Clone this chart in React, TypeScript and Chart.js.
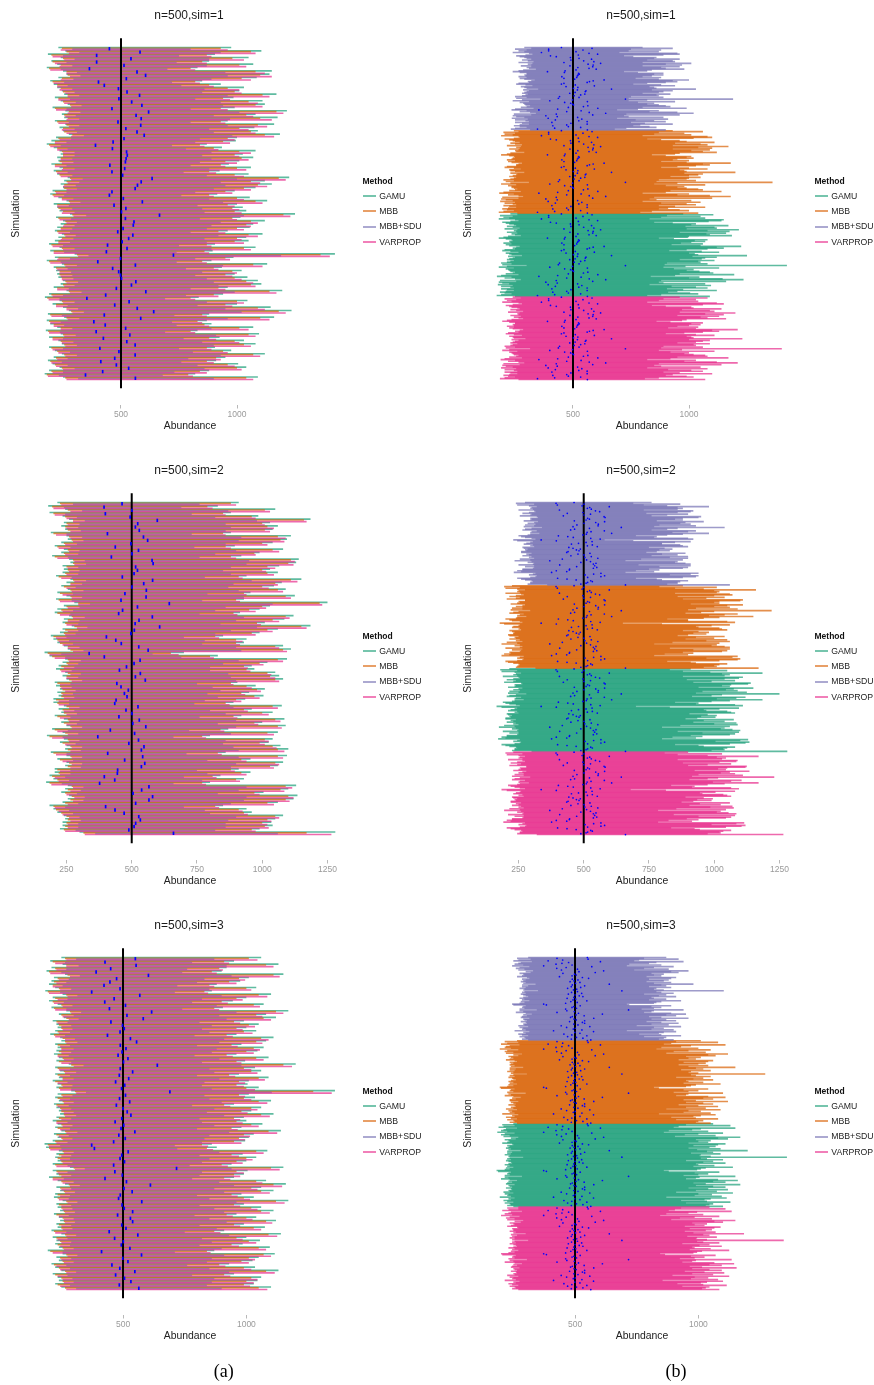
import React, { useEffect, useRef } from 'react';
import { Chart, registerables } from 'chart.js';

Chart.register(...registerables);

const FONT = "'Liberation Sans', Arial, Helvetica, sans-serif";

// ---------------- data ----------------
const METHODS = ['GAMU', 'MBB', 'MBB+SDU', 'VARPROP'];
const METHOD_COLORS: Record<string, string> = {
  GAMU: '#1B9E77',
  MBB: '#D95F02',
  'MBB+SDU': '#7570B3',
  VARPROP: '#E7298A',
};
const GROUP_ORDER_A = ['GAMU', 'MBB', 'MBB+SDU', 'VARPROP']; // (a): within each simulation, top to bottom
const BLOCK_ORDER_B = ['MBB+SDU', 'MBB', 'GAMU', 'VARPROP']; // (b): blocks, top to bottom
const TRUE_ABUNDANCE = 500;
const PANEL_TITLES = ['n=500,sim=1', 'n=500,sim=2', 'n=500,sim=3'];
const X_TICKS_1 = [500, 1000];
const X_TICKS_2 = [250, 500, 750, 1000, 1250];
const X_TICKS_3 = [500, 1000];
const X_LIMITS_1 = [107.8, 1487];
const X_LIMITS_2 = [110.3, 1336.3];
const X_LIMITS_3 = [123, 1420];

// ---- simulation 1 ----
const SIM1_EST = [
  450, 582, 395, 543, 395, 513, 364, 569, 606, 523,
  403, 428, 489, 526, 580, 491, 546, 590, 461, 619,
  565, 587, 487, 585, 521, 569, 600, 513, 466, 390,
  463, 524, 527, 522, 519, 452, 516, 461, 507, 634,
  587, 571, 561, 461, 450, 510, 592, 470, 521, 502,
  666, 519, 556, 553, 509, 486, 551, 533, 505, 442,
  526, 437, 726, 498, 400, 562, 464, 490, 498, 502,
  564, 545, 480, 607, 434, 353, 535, 473, 570, 641,
  428, 585, 383, 432, 520, 393, 538, 424, 525, 561,
  409, 491, 561, 473, 413, 480, 533, 421, 347, 562,
];
const SIM1_GAMU_LO = [
  230, 260, 185, 240, 200, 225, 180, 250, 265, 230,
  195, 210, 225, 245, 255, 215, 240, 270, 205, 260,
  245, 255, 215, 260, 235, 250, 275, 220, 200, 180,
  210, 235, 240, 225, 230, 200, 235, 210, 225, 270,
  255, 240, 250, 205, 195, 230, 265, 210, 225, 235,
  280, 220, 250, 240, 225, 215, 245, 230, 215, 190,
  235, 195, 300, 215, 180, 245, 210, 220, 225, 230,
  250, 240, 210, 265, 190, 172, 235, 205, 250, 275,
  185, 255, 180, 195, 225, 176, 240, 190, 230, 245,
  190, 215, 245, 210, 185, 205, 235, 190, 171, 250,
];
const SIM1_GAMU_HI = [
  975, 1105, 905, 1050, 880, 1070, 830, 1150, 1140, 1085,
  850, 930, 1030, 1010, 1170, 985, 1110, 1120, 990, 1215,
  1080, 1175, 960, 1160, 1075, 1090, 1185, 1000, 995, 870,
  935, 1080, 1025, 1070, 1010, 965, 1060, 925, 1050, 1225,
  1120, 1150, 1080, 990, 915, 1055, 1130, 1000, 1025, 1040,
  1250, 1015, 1120, 1070, 1055, 960, 1110, 1040, 1050, 905,
  1080, 895, 1422, 985, 890, 1130, 935, 1020, 990, 1045,
  1090, 1105, 960, 1195, 940, 835, 1045, 1000, 1145, 1235,
  880, 1160, 870, 890, 1070, 830, 1095, 925, 1030, 1080,
  905, 975, 1120, 950, 910, 1005, 1040, 880, 820, 1090,
];
const SIM1_MBB_LO = [
  245, 265, 200, 250, 205, 240, 190, 265, 270, 245,
  205, 225, 240, 250, 270, 230, 250, 280, 215, 275,
  255, 270, 225, 265, 250, 255, 290, 230, 215, 190,
  225, 245, 250, 240, 235, 215, 250, 220, 235, 280,
  265, 255, 255, 215, 205, 245, 275, 225, 230, 250,
  290, 230, 260, 255, 240, 225, 255, 245, 230, 200,
  245, 210, 310, 230, 190, 255, 220, 235, 235, 245,
  260, 250, 225, 275, 200, 182, 245, 220, 265, 285,
  195, 265, 190, 210, 240, 186, 250, 205, 240, 255,
  200, 225, 255, 220, 195, 215, 245, 200, 180, 260,
];
const SIM1_MBB_HI = [
  930, 1060, 870, 980, 850, 1010, 800, 1080, 1100, 1020,
  820, 880, 960, 990, 1110, 940, 1050, 1080, 930, 1170,
  1040, 1100, 930, 1090, 1010, 1060, 1120, 960, 940, 840,
  900, 1010, 990, 1020, 950, 930, 1000, 880, 990, 1180,
  1060, 1090, 1030, 950, 880, 1000, 1080, 960, 980, 990,
  1200, 980, 1060, 1040, 1000, 920, 1050, 1000, 990, 870,
  1030, 860, 1360, 950, 850, 1070, 900, 980, 950, 990,
  1040, 1060, 920, 1140, 900, 800, 1000, 950, 1090, 1180,
  850, 1100, 830, 860, 1010, 800, 1050, 880, 990, 1030,
  870, 940, 1070, 910, 870, 960, 1000, 840, 790, 1040,
];
const SIM1_MBBSDU_LO = [
  290, 320, 250, 300, 265, 290, 240, 310, 325, 295,
  255, 270, 290, 300, 320, 280, 305, 330, 265, 325,
  305, 320, 275, 320, 300, 310, 340, 285, 265, 240,
  270, 300, 300, 290, 295, 265, 300, 270, 290, 335,
  320, 305, 310, 265, 255, 295, 325, 275, 290, 300,
  350, 285, 310, 300, 290, 280, 305, 295, 280, 250,
  300, 255, 360, 280, 240, 310, 270, 285, 290, 295,
  315, 300, 275, 330, 250, 235, 300, 270, 315, 340,
  245, 320, 240, 255, 290, 236, 305, 250, 295, 310,
  250, 280, 310, 270, 245, 270, 300, 250, 232, 315,
];
const SIM1_MBBSDU_HI = [
  800, 930, 750, 880, 740, 870, 700, 950, 960, 890,
  720, 760, 860, 850, 960, 820, 930, 940, 800, 1010,
  900, 970, 800, 960, 880, 900, 980, 840, 820, 720,
  780, 890, 850, 890, 840, 800, 880, 770, 870, 1000,
  930, 950, 900, 820, 760, 880, 940, 830, 850, 860,
  1030, 840, 930, 890, 870, 800, 920, 860, 870, 750,
  890, 740, 1190, 820, 740, 940, 780, 850, 820, 870,
  900, 920, 800, 990, 780, 690, 870, 830, 950, 1020,
  730, 960, 720, 740, 890, 690, 910, 770, 850, 900,
  750, 810, 930, 790, 760, 830, 860, 730, 680, 900,
];
const SIM1_VARPROP_LO = [
  240, 275, 205, 255, 215, 235, 195, 265, 280, 240,
  210, 225, 235, 260, 270, 230, 255, 285, 220, 270,
  260, 265, 230, 275, 245, 265, 285, 235, 215, 195,
  225, 250, 250, 240, 245, 215, 245, 225, 240, 285,
  270, 250, 265, 220, 210, 245, 280, 225, 240, 245,
  295, 235, 265, 250, 240, 230, 260, 240, 230, 205,
  250, 210, 315, 225, 195, 260, 225, 235, 240, 245,
  265, 255, 225, 280, 205, 188, 250, 220, 265, 290,
  200, 270, 195, 210, 240, 190, 255, 205, 245, 260,
  205, 230, 260, 225, 200, 220, 250, 205, 185, 265,
];
const SIM1_VARPROP_HI = [
  960, 1080, 890, 1030, 870, 1040, 820, 1120, 1150, 1060,
  840, 900, 1010, 1020, 1140, 970, 1090, 1110, 960, 1200,
  1070, 1150, 950, 1130, 1050, 1080, 1160, 990, 970, 860,
  920, 1060, 1010, 1050, 1000, 950, 1040, 910, 1030, 1210,
  1100, 1130, 1060, 980, 900, 1030, 1110, 990, 1010, 1020,
  1230, 1000, 1090, 1060, 1030, 950, 1090, 1020, 1030, 890,
  1060, 880, 1400, 970, 870, 1110, 920, 1000, 980, 1020,
  1070, 1080, 950, 1170, 920, 820, 1030, 980, 1120, 1210,
  870, 1140, 850, 880, 1050, 820, 1080, 910, 1010, 1060,
  890, 960, 1100, 930, 900, 990, 1020, 870, 810, 1070,
];

// ---- simulation 2 ----
const SIM2_EST = [
  463, 394, 501, 399, 494, 598, 523, 514, 529, 407,
  545, 561, 497, 437, 526, 501, 422, 578, 582, 515,
  522, 509, 464, 580, 546, 501, 556, 474, 555, 459,
  644, 522, 465, 450, 579, 528, 513, 607, 510, 497,
  403, 439, 460, 527, 563, 337, 395, 532, 509, 480,
  453, 533, 514, 552, 443, 459, 487, 472, 482, 440,
  435, 524, 478, 501, 451, 529, 504, 554, 418, 511,
  370, 526, 489, 547, 537, 408, 542, 473, 550, 537,
  446, 445, 395, 435, 377, 566, 538, 505, 580, 566,
  515, 400, 436, 471, 527, 533, 515, 509, 489, 660,
];
const SIM2_GAMU_LO = [
  215, 180, 245, 185, 235, 260, 240, 230, 245, 190,
  250, 255, 230, 205, 240, 230, 195, 260, 265, 235,
  240, 235, 210, 265, 250, 230, 255, 215, 250, 210,
  280, 240, 215, 205, 260, 240, 235, 270, 235, 225,
  190, 200, 215, 240, 255, 166, 185, 245, 235, 220,
  210, 245, 235, 250, 205, 210, 225, 215, 220, 200,
  200, 240, 220, 230, 205, 240, 230, 250, 195, 235,
  175, 240, 225, 250, 245, 190, 250, 215, 250, 245,
  205, 205, 185, 200, 172, 255, 245, 230, 260, 255,
  235, 185, 200, 215, 240, 245, 235, 235, 225, 300,
];
const SIM2_GAMU_HI = [
  910, 830, 1050, 880, 985, 1185, 1030, 1060, 1040, 880,
  1110, 1095, 1040, 895, 1080, 990, 920, 1140, 1130, 1065,
  1030, 1060, 940, 1150, 1075, 1045, 1090, 955, 1125, 930,
  1250, 1030, 990, 915, 1120, 1085, 1010, 1185, 1060, 990,
  850, 940, 930, 1080, 1110, 700, 830, 1095, 1020, 960,
  970, 1050, 1065, 1080, 905, 975, 1010, 950, 1005, 935,
  890, 1075, 960, 1040, 920, 1085, 1000, 1090, 870, 1060,
  800, 1040, 1025, 1070, 1100, 860, 1095, 955, 1080, 1060,
  910, 955, 840, 930, 800, 1130, 1100, 1005, 1135, 1120,
  1060, 850, 940, 960, 1080, 1050, 1035, 1040, 990, 1280,
];
const SIM2_MBB_LO = [
  225, 195, 255, 200, 245, 275, 250, 245, 255, 200,
  260, 270, 240, 215, 255, 240, 205, 275, 275, 250,
  255, 245, 220, 275, 265, 240, 265, 225, 265, 220,
  295, 250, 230, 215, 270, 255, 245, 280, 245, 240,
  200, 215, 225, 255, 265, 178, 195, 255, 250, 230,
  225, 255, 250, 260, 215, 225, 235, 230, 230, 210,
  215, 250, 235, 240, 215, 255, 240, 265, 205, 245,
  185, 255, 235, 265, 255, 200, 265, 225, 260, 255,
  215, 220, 195, 215, 185, 270, 255, 245, 270, 265,
  245, 200, 210, 230, 250, 255, 250, 245, 240, 315,
];
const SIM2_MBB_HI = [
  880, 790, 1010, 850, 960, 1160, 1000, 1020, 1010, 850,
  1060, 1070, 1000, 860, 1040, 970, 880, 1110, 1100, 1020,
  1000, 1020, 910, 1110, 1050, 1000, 1060, 930, 1090, 900,
  1220, 1000, 950, 890, 1090, 1040, 980, 1150, 1020, 960,
  820, 900, 900, 1050, 1080, 650, 800, 1060, 990, 930,
  940, 1020, 1030, 1050, 880, 940, 980, 920, 970, 900,
  860, 1040, 930, 1000, 890, 1050, 970, 1060, 840, 1020,
  770, 1010, 990, 1040, 1060, 830, 1060, 920, 1050, 1030,
  880, 920, 810, 900, 770, 1090, 1070, 970, 1100, 1090,
  1020, 820, 910, 930, 1050, 1020, 1000, 1010, 960, 1170,
];
const SIM2_MBBSDU_LO = [
  275, 240, 310, 245, 290, 320, 300, 295, 305, 250,
  310, 315, 290, 265, 300, 295, 255, 320, 325, 295,
  300, 295, 270, 325, 310, 285, 315, 275, 310, 270,
  340, 300, 275, 265, 320, 300, 295, 330, 295, 285,
  250, 260, 275, 300, 315, 230, 245, 305, 295, 280,
  270, 305, 295, 310, 265, 270, 285, 275, 280, 260,
  260, 300, 280, 290, 265, 300, 290, 310, 255, 295,
  235, 300, 285, 310, 305, 250, 310, 275, 310, 305,
  265, 265, 245, 260, 232, 315, 305, 290, 320, 315,
  295, 245, 260, 275, 300, 305, 295, 295, 285, 360,
];
const SIM2_MBBSDU_HI = [
  760, 690, 870, 730, 820, 980, 860, 880, 860, 730,
  920, 910, 860, 740, 900, 820, 760, 950, 940, 880,
  850, 880, 780, 960, 890, 870, 910, 790, 930, 770,
  1040, 860, 820, 760, 930, 900, 840, 980, 880, 820,
  700, 780, 770, 900, 920, 580, 690, 910, 850, 800,
  800, 870, 880, 900, 750, 810, 840, 790, 830, 780,
  740, 890, 800, 860, 760, 900, 830, 900, 720, 880,
  660, 860, 850, 890, 910, 710, 910, 790, 900, 880,
  750, 790, 700, 770, 660, 940, 910, 830, 940, 930,
  880, 700, 780, 800, 900, 870, 860, 860, 820, 1060,
];
const SIM2_VARPROP_LO = [
  230, 200, 265, 205, 250, 275, 255, 250, 265, 210,
  265, 275, 245, 220, 260, 245, 215, 280, 280, 255,
  260, 250, 230, 280, 265, 250, 270, 235, 270, 225,
  295, 255, 235, 225, 275, 255, 250, 290, 255, 245,
  210, 220, 235, 255, 275, 185, 205, 260, 255, 240,
  230, 265, 250, 270, 225, 230, 245, 235, 240, 220,
  220, 260, 240, 250, 225, 260, 250, 270, 215, 255,
  195, 260, 245, 270, 265, 210, 270, 235, 270, 265,
  225, 225, 205, 220, 192, 275, 265, 250, 280, 275,
  255, 205, 220, 235, 260, 265, 255, 255, 245, 320,
];
const SIM2_VARPROP_HI = [
  900, 810, 1030, 860, 975, 1170, 1010, 1045, 1030, 860,
  1090, 1085, 1020, 880, 1065, 975, 900, 1125, 1120, 1050,
  1015, 1045, 925, 1135, 1060, 1025, 1080, 940, 1110, 915,
  1230, 1015, 975, 905, 1105, 1065, 995, 1170, 1040, 975,
  835, 925, 915, 1065, 1095, 680, 815, 1080, 1005, 945,
  955, 1035, 1050, 1065, 890, 960, 995, 935, 990, 920,
  875, 1060, 945, 1025, 905, 1070, 985, 1075, 855, 1045,
  785, 1025, 1010, 1055, 1085, 845, 1080, 940, 1065, 1045,
  895, 940, 825, 915, 785, 1115, 1085, 990, 1120, 1105,
  1045, 835, 925, 945, 1065, 1035, 1020, 1025, 975, 1265,
];

// ---- simulation 3 ----
const SIM3_EST = [
  550, 427, 553, 450, 391, 603, 474, 447, 423, 488,
  373, 568, 464, 426, 510, 445, 616, 516, 582, 451,
  498, 505, 488, 437, 530, 555, 489, 512, 496, 480,
  520, 502, 639, 489, 539, 485, 523, 470, 507, 494,
  690, 510, 486, 527, 473, 500, 517, 532, 495, 468,
  503, 492, 548, 483, 509, 462, 373, 384, 521, 495,
  488, 506, 462, 717, 467, 497, 427, 514, 611, 504,
  537, 489, 482, 576, 496, 505, 539, 478, 530, 539,
  495, 512, 444, 560, 466, 501, 493, 528, 413, 575,
  499, 520, 455, 487, 548, 470, 506, 532, 485, 564,
];
const SIM3_GAMU_LO = [
  250, 205, 255, 210, 190, 265, 220, 210, 200, 225,
  185, 255, 215, 200, 235, 210, 270, 240, 260, 215,
  230, 235, 225, 205, 245, 250, 225, 235, 230, 220,
  240, 230, 280, 225, 245, 225, 240, 215, 235, 230,
  290, 235, 225, 240, 220, 230, 240, 245, 230, 215,
  235, 225, 250, 220, 235, 215, 182, 188, 240, 230,
  225, 235, 215, 285, 215, 230, 200, 235, 265, 230,
  245, 225, 220, 255, 230, 235, 245, 220, 240, 245,
  230, 235, 210, 250, 215, 230, 225, 240, 195, 255,
  230, 240, 210, 225, 250, 215, 235, 240, 225, 250,
];
const SIM3_GAMU_HI = [
  1060, 950, 1130, 920, 900, 1150, 1010, 975, 880, 1040,
  860, 1100, 1000, 945, 1070, 905, 1170, 1080, 1120, 990,
  1050, 1000, 1040, 960, 1110, 1080, 980, 1070, 1045, 960,
  1090, 995, 1200, 1035, 1060, 970, 1090, 1010, 1005, 1050,
  1359, 1010, 1035, 1100, 950, 1060, 1020, 1110, 990, 1000,
  1065, 980, 1140, 1030, 1010, 995, 860, 880, 1085, 985,
  1040, 1000, 940, 1150, 1005, 990, 950, 1080, 1160, 1060,
  1110, 980, 1030, 1170, 990, 1060, 1110, 960, 1040, 1120,
  990, 1075, 910, 1140, 1000, 1055, 985, 1095, 870, 1115,
  1050, 1025, 930, 1035, 1130, 950, 1060, 1045, 1030, 1100,
];
const SIM3_MBB_LO = [
  265, 215, 270, 225, 200, 275, 235, 220, 215, 240,
  195, 270, 225, 215, 250, 220, 285, 250, 270, 230,
  240, 250, 235, 220, 255, 265, 235, 250, 240, 235,
  255, 240, 290, 235, 260, 235, 255, 225, 250, 240,
  305, 250, 235, 255, 230, 245, 250, 260, 240, 230,
  250, 235, 265, 230, 250, 225, 195, 200, 255, 240,
  235, 250, 225, 300, 230, 240, 215, 250, 280, 245,
  260, 235, 235, 270, 240, 250, 260, 230, 255, 260,
  240, 250, 220, 265, 230, 245, 235, 255, 205, 270,
  245, 255, 220, 240, 265, 225, 250, 255, 235, 265,
];
const SIM3_MBB_HI = [
  1010, 910, 1080, 890, 860, 1110, 970, 930, 850, 1000,
  830, 1050, 960, 900, 1030, 870, 1120, 1040, 1070, 950,
  1010, 960, 990, 920, 1060, 1040, 940, 1030, 1000, 920,
  1040, 960, 1150, 990, 1020, 930, 1050, 970, 960, 1000,
  1271, 970, 990, 1050, 910, 1020, 980, 1060, 950, 960,
  1020, 940, 1090, 990, 970, 950, 820, 840, 1040, 940,
  1000, 960, 900, 1100, 960, 950, 910, 1040, 1110, 1020,
  1060, 940, 990, 1120, 950, 1020, 1060, 920, 1000, 1080,
  950, 1030, 870, 1090, 960, 1010, 940, 1050, 840, 1070,
  1010, 980, 890, 990, 1080, 910, 1020, 1000, 990, 1050,
];
const SIM3_MBBSDU_LO = [
  310, 265, 320, 270, 250, 325, 280, 270, 255, 290,
  245, 315, 275, 260, 295, 270, 330, 300, 320, 275,
  290, 295, 285, 265, 305, 315, 285, 300, 290, 280,
  300, 290, 340, 285, 310, 285, 300, 275, 295, 290,
  350, 295, 285, 300, 280, 290, 300, 310, 290, 275,
  295, 285, 315, 280, 295, 275, 245, 250, 300, 290,
  285, 295, 275, 345, 275, 290, 260, 300, 325, 290,
  305, 285, 280, 315, 290, 295, 305, 280, 300, 305,
  290, 295, 270, 310, 275, 290, 285, 300, 255, 315,
  290, 300, 270, 285, 310, 275, 295, 300, 285, 310,
];
const SIM3_MBBSDU_HI = [
  870, 780, 920, 760, 740, 940, 830, 800, 720, 850,
  710, 900, 820, 780, 880, 740, 960, 890, 920, 810,
  860, 820, 850, 790, 910, 890, 800, 880, 860, 790,
  890, 820, 980, 850, 870, 800, 890, 830, 820, 860,
  1103, 830, 850, 900, 780, 870, 840, 910, 810, 820,
  870, 800, 930, 850, 830, 820, 710, 720, 890, 810,
  850, 820, 770, 940, 820, 810, 780, 890, 950, 870,
  910, 800, 850, 960, 810, 870, 910, 790, 850, 920,
  810, 880, 750, 930, 820, 860, 810, 900, 710, 910,
  860, 840, 760, 850, 930, 780, 870, 860, 840, 900,
];
const SIM3_VARPROP_LO = [
  270, 225, 270, 230, 205, 285, 240, 230, 215, 245,
  200, 275, 235, 220, 255, 225, 290, 255, 280, 235,
  250, 255, 240, 225, 265, 270, 245, 250, 250, 235,
  260, 250, 300, 240, 265, 245, 255, 235, 255, 245,
  310, 255, 245, 260, 235, 250, 260, 265, 250, 230,
  255, 245, 270, 240, 255, 230, 200, 205, 260, 250,
  245, 255, 230, 305, 235, 250, 215, 255, 285, 250,
  265, 245, 240, 275, 250, 255, 265, 240, 260, 265,
  250, 255, 225, 270, 235, 250, 245, 260, 215, 275,
  250, 260, 230, 245, 270, 235, 255, 260, 245, 270,
];
const SIM3_VARPROP_HI = [
  1045, 930, 1110, 905, 880, 1135, 995, 960, 870, 1020,
  845, 1085, 985, 925, 1055, 890, 1150, 1065, 1100, 975,
  1035, 985, 1025, 945, 1090, 1065, 965, 1055, 1030, 945,
  1070, 980, 1185, 1020, 1045, 955, 1075, 995, 990, 1035,
  1346, 995, 1020, 1085, 935, 1045, 1005, 1095, 975, 985,
  1050, 965, 1125, 1015, 995, 980, 845, 865, 1070, 970,
  1025, 985, 925, 1135, 990, 975, 935, 1065, 1145, 1045,
  1095, 965, 1015, 1155, 975, 1045, 1095, 945, 1025, 1105,
  975, 1060, 895, 1125, 985, 1040, 970, 1080, 855, 1100,
  1035, 1010, 915, 1020, 1115, 935, 1045, 1030, 1015, 1085,
];

// ---------------- assembled tables ----------------
type Sim = {
  title: string;
  est: number[];
  lo: Record<string, number[]>;
  hi: Record<string, number[]>;
  ticks: number[];
  limits: number[];
};

const SIMS: Sim[] = [
  {
    title: PANEL_TITLES[0], est: SIM1_EST, ticks: X_TICKS_1, limits: X_LIMITS_1,
    lo: { GAMU: SIM1_GAMU_LO, MBB: SIM1_MBB_LO, 'MBB+SDU': SIM1_MBBSDU_LO, VARPROP: SIM1_VARPROP_LO },
    hi: { GAMU: SIM1_GAMU_HI, MBB: SIM1_MBB_HI, 'MBB+SDU': SIM1_MBBSDU_HI, VARPROP: SIM1_VARPROP_HI },
  },
  {
    title: PANEL_TITLES[1], est: SIM2_EST, ticks: X_TICKS_2, limits: X_LIMITS_2,
    lo: { GAMU: SIM2_GAMU_LO, MBB: SIM2_MBB_LO, 'MBB+SDU': SIM2_MBBSDU_LO, VARPROP: SIM2_VARPROP_LO },
    hi: { GAMU: SIM2_GAMU_HI, MBB: SIM2_MBB_HI, 'MBB+SDU': SIM2_MBBSDU_HI, VARPROP: SIM2_VARPROP_HI },
  },
  {
    title: PANEL_TITLES[2], est: SIM3_EST, ticks: X_TICKS_3, limits: X_LIMITS_3,
    lo: { GAMU: SIM3_GAMU_LO, MBB: SIM3_MBB_LO, 'MBB+SDU': SIM3_MBBSDU_LO, VARPROP: SIM3_VARPROP_LO },
    hi: { GAMU: SIM3_GAMU_HI, MBB: SIM3_MBB_HI, 'MBB+SDU': SIM3_MBBSDU_HI, VARPROP: SIM3_VARPROP_HI },
  },
];

// ---------------- layout / style ----------------
const PANEL_H = 455;
const ROW_TOPS = [0, 455, 910];
const COL_LEFTS = [0, 452];
const COL_WIDTHS = [452, 422];
const AREA_RIGHT = 350;
const AREA_TOP = 22;
const PAD_LEFT = 10.8;
const PAD_BOTTOM = 23.9;
const Y_MIN = -29.65;
const Y_MAX = 430.6;
const VLINE_FROM = -10;
const VLINE_TO = 410.5;
const BAR_ALPHA = 0.7;
const EST_COLOR = '#0000ff';
// draw order of the interval layers (higher = drawn earlier, i.e. further below)
const DRAW_ORDER: Record<string, number> = { GAMU: 5, MBB: 4, 'MBB+SDU': 3, VARPROP: 2 };

function hexA(hex: string, a: number) {
  const r = parseInt(hex.slice(1, 3), 16);
  const g = parseInt(hex.slice(3, 5), 16);
  const b = parseInt(hex.slice(5, 7), 16);
  return `rgba(${r},${g},${b},${a})`;
}

const trueLinePlugin = {
  id: 'trueLine',
  beforeDatasetDraw(chart: any, args: any) {
    if (args.index !== chart.data.datasets.length - 1) return;
    const { ctx, scales } = chart;
    const x = scales.x.getPixelForValue(TRUE_ABUNDANCE);
    const y0 = scales.y.getPixelForValue(VLINE_FROM);
    const y1 = scales.y.getPixelForValue(VLINE_TO);
    ctx.save();
    ctx.strokeStyle = '#000';
    ctx.lineWidth = 2;
    ctx.beginPath();
    ctx.moveTo(x, y0);
    ctx.lineTo(x, y1);
    ctx.stroke();
    ctx.restore();
  },
};

function buildConfig(sim: Sim, mode: 'a' | 'b', width: number): any {
  const order = mode === 'a' ? GROUP_ORDER_A : BLOCK_ORDER_B;
  const rowOf = (m: string, i: number) =>
    mode === 'a' ? i * 4 + order.indexOf(m) + 1 : order.indexOf(m) * 100 + i + 1;

  const barSets = METHODS.map((m) => ({
    type: 'bar',
    label: m,
    indexAxis: 'y',
    data: sim.lo[m].map((lo, i) => ({ x: [lo, sim.hi[m][i]], y: rowOf(m, i) })),
    backgroundColor: hexA(METHOD_COLORS[m], BAR_ALPHA),
    borderWidth: 0,
    grouped: false,
    categoryPercentage: 1,
    barPercentage: 2.0,
    inflateAmount: 0,
    order: DRAW_ORDER[m],
  }));

  const estPoints =
    mode === 'a'
      ? sim.est.map((e, i) => ({ x: e, y: i * 4 + 2.5 }))
      : order.flatMap((m, k) => sim.est.map((e, i) => ({ x: e, y: k * 100 + i + 1 })));

  const estSet = {
    type: 'scatter',
    label: 'Estimate',
    indexAxis: 'x',
    data: estPoints,
    order: 0,
    pointStyle: mode === 'a' ? 'line' : 'circle',
    pointRotation: mode === 'a' ? 90 : 0,
    pointRadius: mode === 'a' ? 1.7 : 0.85,
    pointHoverRadius: 0,
    pointBorderWidth: mode === 'a' ? 1.7 : 0,
    pointBorderColor: EST_COLOR,
    pointBackgroundColor: EST_COLOR,
  };

  return {
    type: 'bar',
    data: { datasets: [...barSets, estSet] },
    options: {
      responsive: false,
      maintainAspectRatio: false,
      animation: false,
      devicePixelRatio: 1,
      indexAxis: 'y',
      events: [],
      layout: {
        padding: { left: PAD_LEFT, right: width - AREA_RIGHT, top: AREA_TOP, bottom: PAD_BOTTOM },
      },
      plugins: {
        legend: { display: false },
        tooltip: { enabled: false },
        title: { display: false },
      },
      scales: {
        x: {
          type: 'linear',
          position: 'bottom',
          min: sim.limits[0],
          max: sim.limits[1],
          offset: false,
          afterBuildTicks: (axis: any) => {
            axis.ticks = sim.ticks.map((v) => ({ value: v }));
          },
          grid: {
            display: true,
            drawOnChartArea: false,
            drawTicks: true,
            tickLength: 3.5,
            color: '#a6a6a6',
            lineWidth: 0.8,
          },
          border: { display: false },
          ticks: {
            color: '#9a9a9a',
            font: { size: 8.5, family: FONT },
            padding: 1,
            autoSkip: false,
            maxRotation: 0,
            callback: (v: any) => String(v),
          },
          title: {
            display: true,
            text: 'Abundance',
            color: '#222',
            font: { size: 10.4, family: FONT, lineHeight: 1 },
            padding: 0,
          },
        },
        y: {
          type: 'linear',
          position: 'left',
          reverse: true,
          min: Y_MIN,
          max: Y_MAX,
          offset: false,
          grid: { display: false, drawTicks: false },
          border: { display: false },
          ticks: { display: false },
          title: {
            display: true,
            text: 'Simulation',
            color: '#222',
            font: { size: 10.4, family: FONT, lineHeight: 1 },
            padding: { top: 0, bottom: 8.8 },
          },
        },
      },
    },
    plugins: [trueLinePlugin],
  };
}

const LEGEND_LEFT = 363;
const LEGEND_TITLE_Y = 181;
const LEGEND_ITEM_Y0 = 195.7;
const LEGEND_ITEM_STEP = 15.4;

function Legend() {
  return (
    <>
      <div
        style={{
          position: 'absolute', left: LEGEND_LEFT - 0.5, top: LEGEND_TITLE_Y - 5.2,
          font: `bold 8.5px ${FONT}`, lineHeight: '10.2px', color: '#111', whiteSpace: 'nowrap',
        }}
      >
        Method
      </div>
      {METHODS.map((m, i) => {
        const yc = LEGEND_ITEM_Y0 + i * LEGEND_ITEM_STEP;
        return (
          <React.Fragment key={m}>
            <div
              style={{
                position: 'absolute', left: LEGEND_LEFT, top: yc - 1, width: 12.7, height: 2,
                background: hexA(METHOD_COLORS[m], 0.6),
              }}
            />
            <div
              style={{
                position: 'absolute', left: LEGEND_LEFT + 16.3, top: yc - 5.2,
                font: `8.7px ${FONT}`, lineHeight: '10.2px', color: '#222', whiteSpace: 'nowrap',
              }}
            >
              {m}
            </div>
          </React.Fragment>
        );
      })}
    </>
  );
}

function Panel({ simIdx, col }: { simIdx: number; col: number }) {
  const canvasRef = useRef<HTMLCanvasElement | null>(null);
  const sim = SIMS[simIdx];
  const width = COL_WIDTHS[col];
  const mode: 'a' | 'b' = col === 0 ? 'a' : 'b';

  useEffect(() => {
    const canvas = canvasRef.current;
    if (!canvas) return;
    const chart = new Chart(canvas, buildConfig(sim, mode, width));
    return () => chart.destroy();
  }, [simIdx, col]);

  return (
    <div
      style={{
        position: 'absolute', left: COL_LEFTS[col], top: ROW_TOPS[simIdx], width, height: PANEL_H,
      }}
    >
      <canvas
        ref={canvasRef}
        width={width}
        height={PANEL_H}
        style={{ position: 'absolute', left: 0, top: 0, width, height: PANEL_H }}
      />
      <div
        style={{
          position: 'absolute', left: 28, width: 322, top: 8, textAlign: 'center',
          font: `12px ${FONT}`, lineHeight: '14px', color: '#1a1a1a', whiteSpace: 'nowrap',
        }}
      >
        {sim.title}
      </div>
      <Legend />
    </div>
  );
}

export default function App() {
  return (
    <div
      style={{
        position: 'absolute', left: 0, top: 0, width: 874, height: 1385, background: '#fff', overflow: 'hidden',
      }}
    >
      {[0, 1, 2].map((s) => (
        <React.Fragment key={s}>
          <Panel simIdx={s} col={0} />
          <Panel simIdx={s} col={1} />
        </React.Fragment>
      ))}
      <div
        style={{
          position: 'absolute', left: 193.7, width: 60, top: 1361, textAlign: 'center',
          font: `18px 'Liberation Serif', 'Times New Roman', serif`, lineHeight: '20px', color: '#000',
        }}
      >
        (a)
      </div>
      <div
        style={{
          position: 'absolute', left: 646, width: 60, top: 1361, textAlign: 'center',
          font: `18px 'Liberation Serif', 'Times New Roman', serif`, lineHeight: '20px', color: '#000',
        }}
      >
        (b)
      </div>
    </div>
  );
}
